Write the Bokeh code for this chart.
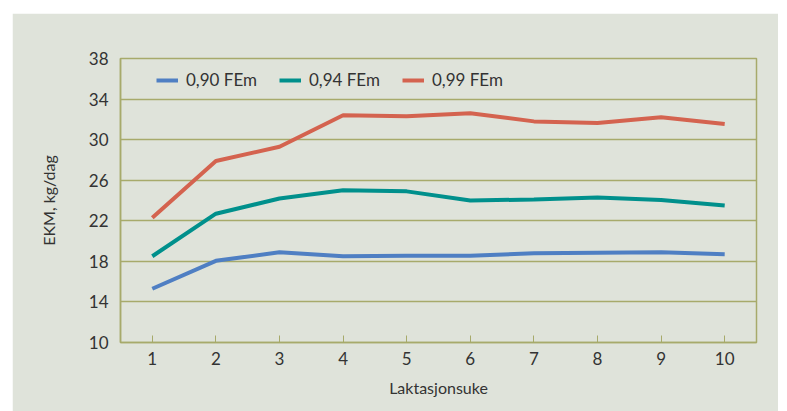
from bokeh.plotting import figure
from bokeh.models import Legend, LegendItem, FixedTicker, Range1d
from bokeh.embed import file_html
from bokeh.resources import INLINE

weeks = [1, 2, 3, 4, 5, 6, 7, 8, 9, 10]
fem_090 = [15.3, 18.05, 18.9, 18.5, 18.55, 18.55, 18.8, 18.85, 18.9, 18.7]
fem_094 = [18.5, 22.7, 24.2, 25.0, 24.9, 24.0, 24.1, 24.3, 24.05, 23.5]
fem_099 = [22.3, 27.9, 29.3, 32.4, 32.3, 32.6, 31.8, 31.65, 32.2, 31.55]
series_names = ["0,90 FEm", "0,94 FEm", "0,99 FEm"]
y_ticks = [10, 14, 18, 22, 26, 30, 34, 38]

colors = ["#4f7fc3", "#00908c", "#d4634f"]
olive = "#a7aa6b"
bg = "#dfe3da"
txt = "#333333"
font = "Lato"

p = figure(width=766, height=398, output_backend="svg", toolbar_location=None,
           x_range=Range1d(0.5, 10.5), y_range=Range1d(10, 38),
           min_border_left=108, min_border_right=22, min_border_top=45,
           min_border_bottom=69)
p.margin = (13, 0, 0, 12)
p.background_fill_color = bg
p.border_fill_color = bg
p.outline_line_color = olive
p.outline_line_width = 1.5

items = []
for name, vals, c in zip(series_names, [fem_090, fem_094, fem_099], colors):
    r = p.line(weeks, vals, line_color=c, line_width=4)
    items.append(LegendItem(label=name, renderers=[r]))

legend = Legend(items=items, orientation="horizontal", location=(32, 248))
legend.background_fill_alpha = 0
legend.border_line_alpha = 0
legend.label_text_font = font
legend.label_text_font_size = "17px"
legend.label_text_color = txt
legend.glyph_width = 22
legend.glyph_height = 20
legend.label_standoff = 8
legend.spacing = 22
legend.margin = 0
legend.padding = 4
p.add_layout(legend, "center")

p.xgrid.visible = False
p.ygrid.ticker = FixedTicker(ticks=y_ticks)
p.ygrid.grid_line_color = olive
p.ygrid.grid_line_width = 1.5

p.yaxis.ticker = FixedTicker(ticks=y_ticks)
p.xaxis.ticker = FixedTicker(ticks=weeks)
p.xaxis.axis_label = "Laktasjonsuke"
p.yaxis.axis_label = "EKM, kg/dag"

for ax in (p.xaxis[0], p.yaxis[0]):
    ax.axis_line_color = olive
    ax.axis_line_width = 1.5
    ax.major_tick_line_color = olive
    ax.major_tick_line_width = 1
    ax.minor_tick_line_color = None
    ax.major_label_text_font = font
    ax.major_label_text_font_size = "17px"
    ax.major_label_text_color = txt
    ax.axis_label_text_font = font
    ax.axis_label_text_font_size = "16px"
    ax.axis_label_text_font_style = "normal"
    ax.axis_label_text_color = txt

p.xaxis.major_tick_in = 7
p.xaxis.major_tick_out = 0
p.xaxis.major_label_standoff = 9
p.xaxis.axis_label_standoff = 10
p.yaxis.major_tick_in = 0
p.yaxis.major_tick_out = 0
p.yaxis.major_label_standoff = 12
p.yaxis.axis_label_standoff = 28

open("out.html", "w").write(file_html(p, INLINE))
